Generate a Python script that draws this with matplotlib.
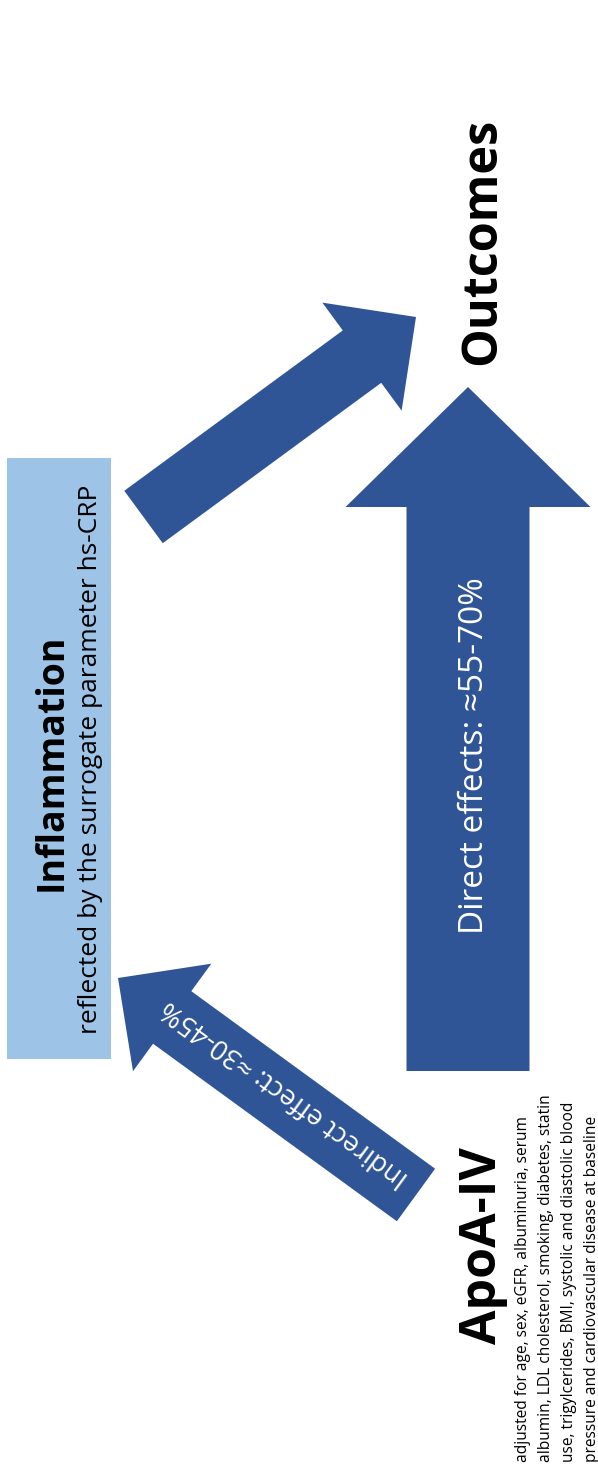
import numpy as np
import matplotlib
matplotlib.use("Agg")
import matplotlib.pyplot as plt
from matplotlib.patches import Polygon, Rectangle

plt.rcParams["font.family"] = ["Open Sans", "DejaVu Sans"]

W, H = 598, 1467
DARK = "#2F5597"
LIGHT = "#9DC3E6"

# box for the mediator (x0, y0, x1, y1) in pixel units, y downwards
box = (7, 458, 111, 1059)

# arrows: tail centre, tip, shaft width, head width, head length
arrow_names = ["to_outcomes", "indirect", "direct"]
arrow_tails = [(143.5, 517), (416, 1195), (468, 1071)]
arrow_tips = [(416, 317), (118, 978), (468, 387)]
shaft_widths = [65, 65, 123]
head_widths = [134, 133, 245]
head_lengths = [67, 67, 120]

adjust_lines = [
    "adjusted for age, sex, eGFR, albuminuria, serum",
    "albumin, LDL cholesterol, smoking, diabetes, statin",
    "use, trigylcerides, BMI, systolic and diastolic blood",
    "pressure and cardiovascular disease at baseline",
]


def arrow_poly(tail, tip, w, hw, hl):
    tail = np.array(tail, float)
    tip = np.array(tip, float)
    u = (tip - tail) / np.linalg.norm(tip - tail)
    n = np.array([-u[1], u[0]])
    base = tip - u * hl
    return [tail + n * w / 2, base + n * w / 2, base + n * hw / 2, tip,
            base - n * hw / 2, base - n * w / 2, tail - n * w / 2]


fig = plt.figure(figsize=(W / 100, H / 100), dpi=100)
ax = fig.add_axes([0, 0, 1, 1])
ax.set_xlim(0, W)
ax.set_ylim(H, 0)
ax.axis("off")

ax.add_patch(Rectangle((box[0], box[1]), box[2] - box[0], box[3] - box[1],
                       facecolor=LIGHT, edgecolor="none"))

for tail, tip, w, hw, hl in zip(arrow_tails, arrow_tips, shaft_widths, head_widths, head_lengths):
    ax.add_patch(Polygon(arrow_poly(tail, tip, w, hw, hl), closed=True,
                         facecolor=DARK, edgecolor="none"))

# rotated labels, anchored on their baseline
kw = dict(rotation=90, rotation_mode="anchor", ha="center", va="baseline")
ax.text(62, 762, "Inflammation", fontsize=27, fontweight="bold", **kw)
ax.text(97, 759, "reflected by the surrogate parameter hs-CRP", fontsize=19, **kw)
ax.text(495, 241, "Outcomes", fontsize=35, fontweight="bold", **kw)
ax.text(496, 1246, "ApoA-IV", fontsize=36, fontweight="bold", **kw)
ax.text(483, 756, "Direct effects: \u224855-70%", fontsize=24, color="white", **kw)

# indirect effect text follows the arrow
tail, tip = arrow_tails[1], arrow_tips[1]
ang = np.degrees(np.arctan2(tail[1] - tip[1], tip[0] - tail[0]))
ax.text(285, 1093, "Indirect effect: \u224830-45%", fontsize=19.5, color="white",
        rotation=ang, rotation_mode="anchor", ha="center", va="center")

for i, line in enumerate(adjust_lines):
    ax.text(527 + i * 23, 1462, line, fontsize=11.2, rotation=90,
            rotation_mode="anchor", ha="left", va="baseline")

fig.savefig("out.png", dpi=100)
